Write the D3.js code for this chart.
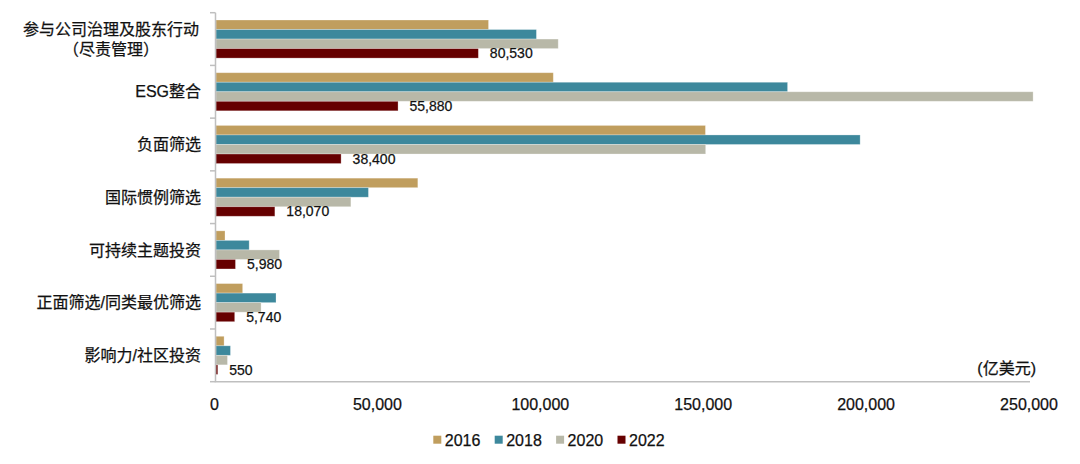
<!DOCTYPE html>
<html><head><meta charset="utf-8">
<script src="https://cdn.jsdelivr.net/npm/d3@7"></script>
<style>
html,body{margin:0;padding:0;background:#fff;}
text{font-family:"Liberation Sans","Noto Sans CJK SC",Arial,sans-serif;fill:#111;stroke:#111;stroke-width:0.25px;}
</style></head>
<body>
<svg id="chart" width="1080" height="464"></svg>
<script>
const categories = ["参与公司治理及股东行动\n（尽责管理）","ESG整合","负面筛选","国际惯例筛选","可持续主题投资","正面筛选/同类最优筛选","影响力/社区投资"];
const years = ["2016","2018","2020","2022"];
const v2016 = [83650,103530,150230,61950,2760,8180,2480];
const v2018 = [98350,175440,197710,46790,10180,18420,4440];
const v2020 = [105040,250800,150300,41400,19480,13840,3520];
const v2022 = [80530,55880,38400,18070,5980,5740,550];
const xTicks = [0,50000,100000,150000,200000,250000];
const unitLabel = "(亿美元)";
const colors = ["#C09E5E","#3D889C","#B8B8A8","#660000"];

const series = [v2016,v2018,v2020,v2022];
const svg = d3.select("#chart");
const mLeft = 215.5, mRight = 1030, mTop = 12.7, mBottom = 381.7;

const x = d3.scaleLinear().domain([0,250000]).range([mLeft,mRight]);
const y = d3.scaleBand().domain(categories).range([mTop,mBottom]).paddingInner(0).paddingOuter(0);
const inner = d3.scaleBand().domain(years).range([7.3, y.bandwidth()-7.3]).padding(0);

// bars
years.forEach((yr,si)=>{
  svg.append("g").selectAll("rect").data(categories).join("rect")
    .attr("x", x(0)+0.5)
    .attr("y", c=>y(c)+inner(yr))
    .attr("width", (c,i)=>Math.max(0.8, x(series[si][i])-x(0)))
    .attr("height", inner.bandwidth())
    .attr("fill", colors[si])
    .attr("stroke","#fff").attr("stroke-opacity",0.35).attr("stroke-width",0.8);
});

// value labels for 2022
svg.append("g").selectAll("text").data(categories).join("text")
  .attr("x",(c,i)=>x(v2022[i])+12)
  .attr("y",c=>y(c)+inner("2022")+inner.bandwidth()/2)
  .attr("dy","0.35em")
  .attr("font-size",14)
  .text((c,i)=>d3.format(",")(v2022[i]));

// y axis
const yAxis = svg.append("g").attr("transform",`translate(${mLeft},0)`);
yAxis.append("line").attr("x1",0).attr("x2",0).attr("y1",mTop).attr("y2",mBottom)
  .attr("stroke","#BFBFBF").attr("stroke-width",1.5);
const bounds = d3.range(categories.length+1).map(i=>mTop+i*y.step());
yAxis.selectAll("line.tk").data(bounds).join("line").attr("class","tk")
  .attr("x1",-5.5).attr("x2",0).attr("y1",d=>d).attr("y2",d=>d)
  .attr("stroke","#BFBFBF").attr("stroke-width",1.5);

// x axis line
svg.append("line").attr("x1",mLeft-0.75).attr("x2",mRight).attr("y1",mBottom).attr("y2",mBottom)
  .attr("stroke","#BFBFBF").attr("stroke-width",1.5);

// x tick labels
svg.append("g").selectAll("text").data(xTicks).join("text")
  .attr("x",d=>x(d)-1).attr("y",404).attr("dy","0.35em")
  .attr("text-anchor","middle").attr("font-size",16)
  .text(d=>d3.format(",")(d));

// category labels
categories.forEach(c=>{
  const lines = c.split("\n");
  const cy = y(c)+y.bandwidth()/2;
  if(lines.length===1){
    svg.append("text").attr("x",201).attr("y",cy).attr("dy","0.35em")
      .attr("text-anchor","end").attr("font-size",16).text(c);
  } else {
    lines.forEach((ln,k)=>{
      svg.append("text").attr("x",111).attr("y",cy-10+20*k).attr("dy","0.35em")
        .attr("text-anchor","middle").attr("font-size",16).text(ln);
    });
  }
});

// unit label
svg.append("text").attr("x",1036).attr("y",368).attr("dy","0.35em")
  .attr("text-anchor","end").attr("font-size",16).text(unitLabel);

// legend
const lg = svg.append("g");
years.forEach((yr,i)=>{
  const lx = 433.3 + i*61.4;
  lg.append("rect").attr("x",lx).attr("y",435.7).attr("width",8).attr("height",8).attr("fill",colors[i]);
  lg.append("text").attr("x",lx+11.5).attr("y",440).attr("dy","0.35em").attr("font-size",16).text(yr);
});
</script>
</body></html>
